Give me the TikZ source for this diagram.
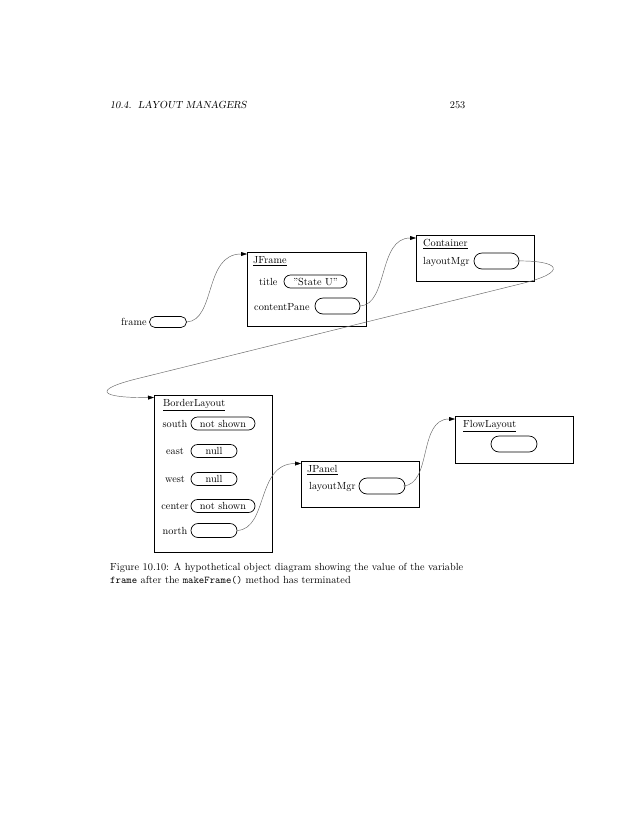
\documentclass[tikz,border=0pt]{standalone}
\usepackage{fontspec}
\usetikzlibrary{arrows.meta,shapes.misc}
\begin{document}
\begin{tikzpicture}[x=1pt,y=-1pt,
  font=\fontsize{10.3}{12.7}\selectfont,
  objbox/.style={draw, line width=0.7pt, inner sep=0pt},
  oval/.style={draw, line width=0.7pt, rounded rectangle, inner sep=0pt, text height=7pt, text depth=0pt},
  objtitle/.style={anchor=base west, inner sep=0pt},
  fieldlbl/.style={anchor=base west, inner sep=0pt},
  bllbl/.style={anchor=base, inner sep=0pt},
  conn/.style={draw=black!60, line width=0.45pt, -{Triangle[length=6pt,width=4pt,black]}}
]
\fill[white] (0,0) rectangle (630,815);
\useasboundingbox (0,0) rectangle (630,815);

% header
\node[anchor=base west, inner sep=0pt] (hdr) at (110,108.5) {\slshape 10.4.\ \ LAYOUT MANAGERS};
\node[anchor=base east, inner sep=0pt] (pg) at (465.5,108.5) {253};

% frame variable
\node[fieldlbl] (frameL) at (121,325) {frame};
\node[oval, minimum width=37pt, minimum height=11pt] (frameV) at (168,322) {};

% JFrame
\node[objbox, anchor=north west, minimum width=119pt, minimum height=74pt] (jframe) at (247,252) {};
\node[objtitle] (jframeT) at (253,263.5) {\underline{JFrame}};
\node[fieldlbl] (titleL) at (259,285.5) {title};
\node[oval, minimum width=63pt, minimum height=13pt] (titleV) at (315.5,281.5) {''State U''};
\node[fieldlbl] (cpL) at (254,310) {contentPane};
\node[oval, minimum width=45pt, minimum height=16pt] (cpV) at (337.5,306) {};

% Container
\node[objbox, anchor=north west, minimum width=118pt, minimum height=46pt] (container) at (416,235) {};
\node[objtitle] (containerT) at (423,246.5) {\underline{Container}};
\node[fieldlbl] (clmL) at (423,264.5) {layoutMgr};
\node[oval, minimum width=45pt, minimum height=16pt] (contV) at (496.5,261) {};

% BorderLayout
\node[objbox, anchor=north west, minimum width=118pt, minimum height=157pt] (border) at (154,395) {};
\node[objtitle] (borderT) at (163,406.5) {\underline{BorderLayout}};
\node[bllbl] (southL) at (175,427) {south};
\node[oval, minimum width=64pt, minimum height=13pt] (southV) at (223,423.5) {not shown};
\node[bllbl] (eastL) at (175,454.5) {east};
\node[oval, minimum width=46pt, minimum height=13pt] (eastV) at (214,451) {null};
\node[bllbl] (westL) at (175,482.5) {west};
\node[oval, minimum width=46pt, minimum height=13pt] (westV) at (214,479) {null};
\node[bllbl] (centerL) at (175,509.5) {center};
\node[oval, minimum width=64pt, minimum height=13pt] (centerV) at (223,506) {not shown};
\node[bllbl] (northL) at (175,534.5) {north};
\node[oval, minimum width=46pt, minimum height=14pt] (northV) at (214,530.5) {};

% JPanel
\node[objbox, anchor=north west, minimum width=118pt, minimum height=46pt] (jpanel) at (301,461) {};
\node[objtitle] (jpanelT) at (307,472.5) {\underline{JPanel}};
\node[fieldlbl] (jlmL) at (309,489.5) {layoutMgr};
\node[oval, minimum width=46pt, minimum height=16pt] (jpV) at (382,486) {};

% FlowLayout
\node[objbox, anchor=north west, minimum width=118pt, minimum height=47pt] (flow) at (455,416) {};
\node[objtitle] (flowT) at (463,427.5) {\underline{FlowLayout}};
\node[oval, minimum width=46pt, minimum height=16pt] (flowV) at (514,444) {};

% connectors
\draw[conn] (frameV.east) .. controls +(29,-2) and +(-43,0) .. ([yshift=-2pt]jframe.north west);
\draw[conn] (cpV.east) .. controls +(28,-2) and +(-38,0) .. ([yshift=-3pt]container.north west);
\draw[conn] ([xshift=-4pt]contV.east) .. controls (560,260) and (570,272) .. (520,284)
   -- (140,378) .. controls (90,390) and (100,398) .. ([yshift=-2.5pt]border.north west);
\draw[conn] (northV.east) .. controls +(31,-2) and +(-45,0) .. ([yshift=-2.5pt]jpanel.north west);
\draw[conn] ([xshift=-2pt]jpV.east) .. controls +(29,-2) and +(-37,0) .. ([yshift=-3pt]flow.north west);

% caption
\node[anchor=base west, inner sep=0pt] (cap1) at (110,570.5) {Figure 10.10: A hypothetical object diagram showing the value of the variable};
\node[anchor=base west, inner sep=0pt] (cap2) at (110,583.2) {\texttt{frame} after the \texttt{makeFrame()} method has terminated};
\end{tikzpicture}
\end{document}
